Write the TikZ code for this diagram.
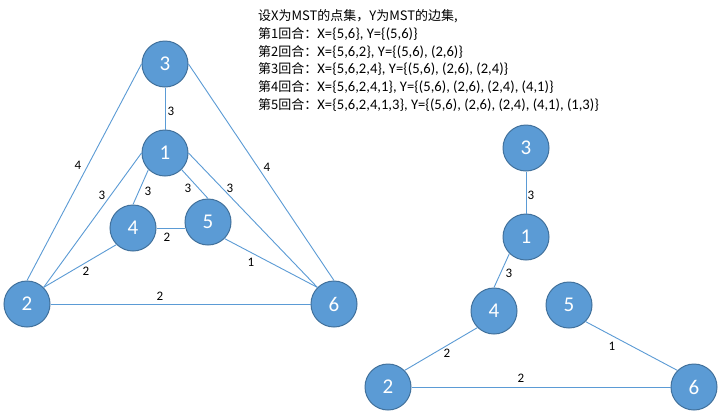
\documentclass[tikz,border=0pt]{standalone}
\usepackage{fontspec}
\setmainfont{Carlito}
\newfontfamily\cjk{Noto Sans CJK SC}
\definecolor{nodefill}{HTML}{5B9BD5}
\definecolor{nodeline}{HTML}{41719C}
\begin{document}
\begin{tikzpicture}[x=1pt,y=-1pt,
  vtx/.style={circle,fill=nodefill,draw=nodeline,line width=1pt,minimum size=46pt,inner sep=0pt,text=white,font=\fontsize{21}{21}\selectfont},
  edge/.style={draw=nodefill,line width=0.9pt},
  wlab/.style={font=\fontsize{13}{13}\selectfont,inner sep=0pt,text=black},
  txt/.style={anchor=base west,inner sep=0pt,font=\fontsize{14.6}{15}\selectfont}]
\useasboundingbox[fill=white] (0,0) rectangle (723,416);

% text block
\node[txt] (t1) at (258,20) {{\cjk\fontsize{13}{13}\selectfont 设X为MST的点集，Y为MST的边集,}};
\node[txt] (t2) at (258,38) {{\cjk\fontsize{13}{13}\selectfont 第1回合：}X=\{5,6\}, Y=\{(5,6)\}};
\node[txt] (t3) at (258,56) {{\cjk\fontsize{13}{13}\selectfont 第2回合：}X=\{5,6,2\}, Y=\{(5,6), (2,6)\}};
\node[txt] (t4) at (258,73.5) {{\cjk\fontsize{13}{13}\selectfont 第3回合：}X=\{5,6,2,4\}, Y=\{(5,6), (2,6), (2,4)\}};
\node[txt] (t5) at (258,91) {{\cjk\fontsize{13}{13}\selectfont 第4回合：}X=\{5,6,2,4,1\}, Y=\{(5,6), (2,6), (2,4), (4,1)\}};
\node[txt] (t6) at (258,109) {{\cjk\fontsize{13}{13}\selectfont 第5回合：}X=\{5,6,2,4,1,3\}, Y=\{(5,6), (2,6), (2,4), (4,1), (1,3)\}};

% left graph
\node[vtx] (a3) at (165,64) {3};
\node[vtx] (a1) at (165,153) {1};
\node[vtx] (a4) at (133,228) {4};
\node[vtx] (a5) at (208,222) {5};
\node[vtx] (a2) at (27,304) {2};
\node[vtx] (a6) at (334,304) {6};

\draw[edge] (a3.south) -- (a1.north);
\draw[edge] (a3.west) -- (a2.north);
\draw[edge] (a3.east) -- (a6.north);
\draw[edge] (a1.west) -- (a2.north east);
\draw[edge] (a1.south west) -- (a4.north);
\draw[edge] (a1.south east) -- (a5.north);
\draw[edge] (a1.east) -- (a6.north west);
\draw[edge] (a4.east) -- (a4.east -| a5.west);
\draw[edge] (a4.south west) -- (a2.north east);
\draw[edge] (a5.south east) -- (a6.north west);
\draw[edge] (a2.east) -- (a6.west);

\node[wlab] (la31) at (171,111) {3};
\node[wlab] (la32) at (78,165) {4};
\node[wlab] (la36) at (267,167) {4};
\node[wlab] (la12) at (102,195) {3};
\node[wlab] (la14) at (148,191) {3};
\node[wlab] (la15) at (188,188) {3};
\node[wlab] (la16) at (230,188) {3};
\node[wlab] (la45) at (167,237) {2};
\node[wlab] (la42) at (86,271) {2};
\node[wlab] (la56) at (251,262) {1};
\node[wlab] (la26) at (160,296) {2};

% right graph
\node[vtx] (b3) at (526,148) {3};
\node[vtx] (b1) at (526,237) {1};
\node[vtx] (b4) at (494,311) {4};
\node[vtx] (b5) at (569,305) {5};
\node[vtx] (b2) at (388,387) {2};
\node[vtx] (b6) at (694,387) {6};

\draw[edge] (b3.south) -- (b1.north);
\draw[edge] (b1.south west) -- (b4.north);
\draw[edge] (b4.south west) -- (b2.north east);
\draw[edge] (b5.south east) -- (b6.north west);
\draw[edge] (b2.east) -- (b6.west);

\node[wlab] (lb31) at (531,195) {3};
\node[wlab] (lb14) at (509,273) {3};
\node[wlab] (lb42) at (447,353) {2};
\node[wlab] (lb56) at (612,346) {1};
\node[wlab] (lb26) at (521,378) {2};
\end{tikzpicture}
\end{document}
